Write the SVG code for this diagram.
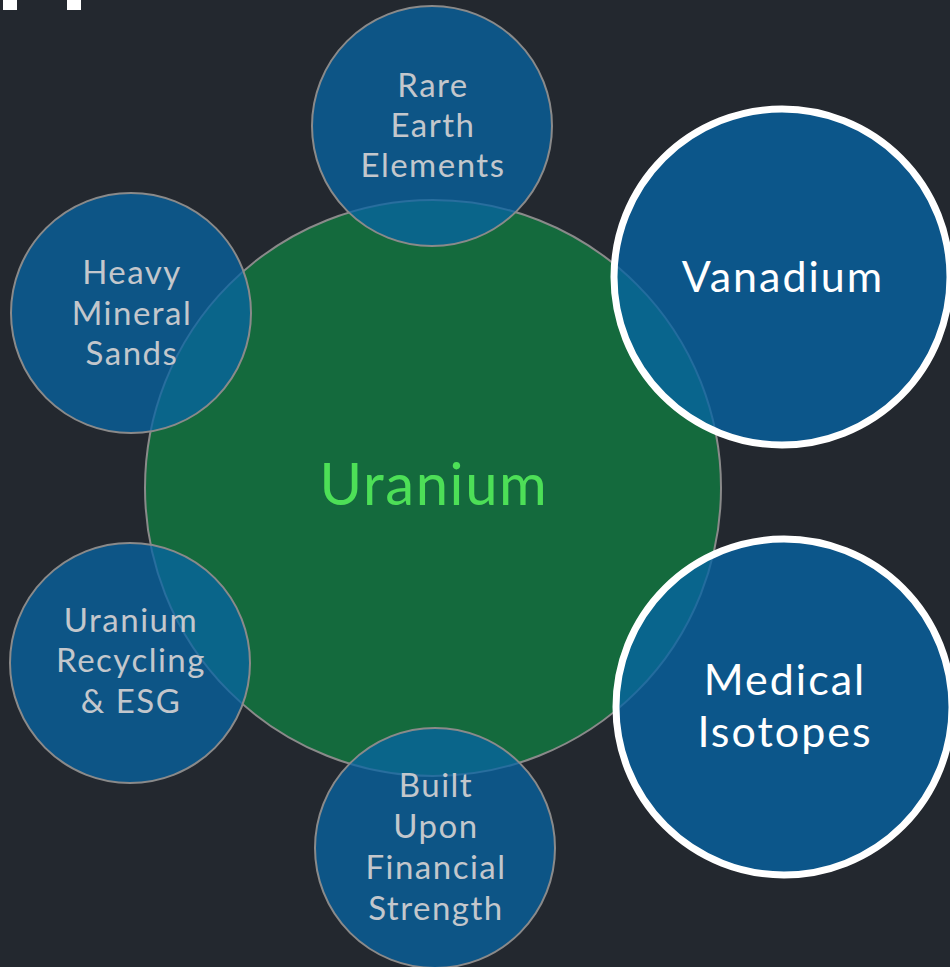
<svg xmlns="http://www.w3.org/2000/svg" width="950" height="967" viewBox="0 0 950 967">
  <style>
    .bg { fill: #23282f; }
    .core { fill: #146a3d; stroke: #8a8a8a; stroke-width: 2; }
    .sat { fill: #0764a4; fill-opacity: 0.75; stroke: #8a8a8a; stroke-width: 2; }
    .hero { fill: #0764a4; fill-opacity: 0.78; stroke: #ffffff; stroke-width: 7; }
    .lbl { font-family: Lato, "Open Sans", "DejaVu Sans", sans-serif; text-anchor: middle; }
    .small { font-size: 33px; fill: #c3c7cc; letter-spacing: 1.5px; }
    .big { font-size: 43px; fill: #ffffff; letter-spacing: 2px; }
    .main { font-size: 58px; fill: #4ddf57; letter-spacing: 1.6px; }
    .mark { fill: #ffffff; }
  </style>

  <rect class="bg" x="0" y="0" width="950" height="967"/>

  <!-- fragments of a heading cut off at the top edge -->
  <rect class="mark" x="3" y="0" width="14" height="10"/>
  <rect class="mark" x="67" y="0" width="14" height="10"/>

  <g id="uranium">
    <circle class="core" cx="433" cy="488" r="288"/>
    <text class="lbl main" x="434" y="505">Uranium</text>
  </g>

  <g id="rare-earth">
    <circle class="sat" cx="432" cy="126" r="120"/>
    <text class="lbl small" x="433" y="97">Rare</text>
    <text class="lbl small" x="433" y="137">Earth</text>
    <text class="lbl small" x="433" y="177">Elements</text>
  </g>

  <g id="heavy-mineral-sands">
    <circle class="sat" cx="131" cy="313" r="120"/>
    <text class="lbl small" x="132" y="284">Heavy</text>
    <text class="lbl small" x="132" y="325">Mineral</text>
    <text class="lbl small" x="132" y="365">Sands</text>
  </g>

  <g id="recycling-esg">
    <circle class="sat" cx="130" cy="663" r="120"/>
    <text class="lbl small" x="131" y="632">Uranium</text>
    <text class="lbl small" x="131" y="672">Recycling</text>
    <text class="lbl small" x="131" y="713">&amp; ESG</text>
  </g>

  <g id="financial-strength">
    <circle class="sat" cx="435" cy="848" r="120"/>
    <text class="lbl small" x="436" y="797">Built</text>
    <text class="lbl small" x="436" y="838">Upon</text>
    <text class="lbl small" x="436" y="879">Financial</text>
    <text class="lbl small" x="436" y="920">Strength</text>
  </g>

  <g id="vanadium">
    <circle class="hero" cx="782" cy="277" r="168"/>
    <text class="lbl big" x="783" y="292">Vanadium</text>
  </g>

  <g id="medical-isotopes">
    <circle class="hero" cx="784" cy="707" r="168"/>
    <text class="lbl big" x="785" y="695">Medical</text>
    <text class="lbl big" x="785" y="747">Isotopes</text>
  </g>

  <g id="connectors"></g>
</svg>
